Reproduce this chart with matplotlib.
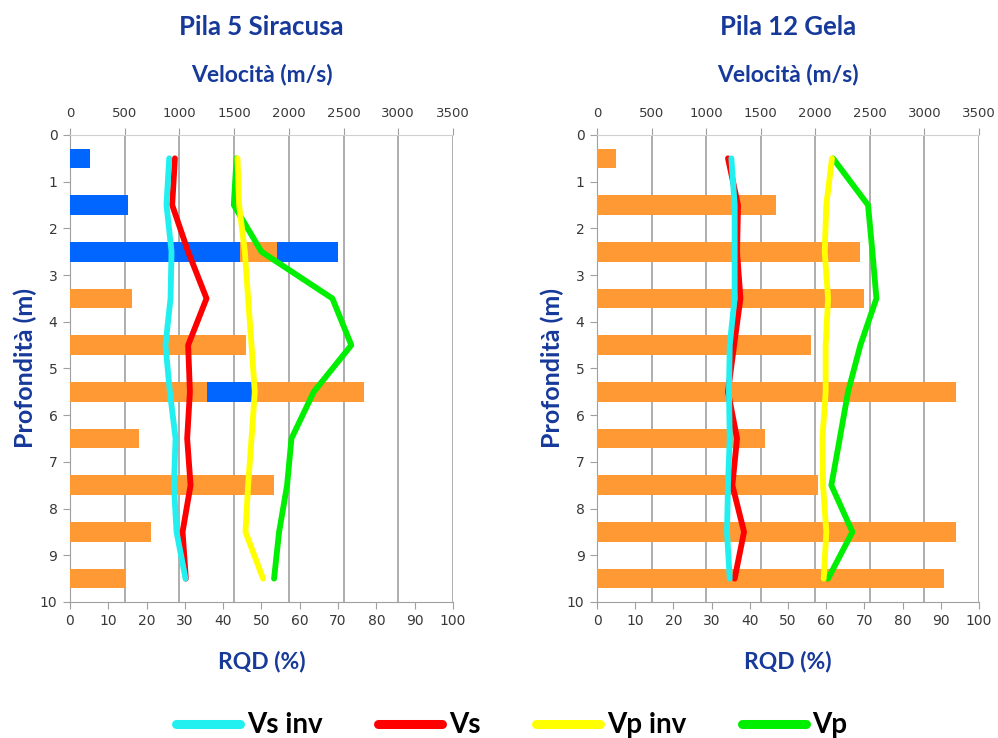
import numpy as np
import matplotlib
matplotlib.use("Agg")
import matplotlib.pyplot as plt

# depth of each measurement (m)
depth = [0.5, 1.5, 2.5, 3.5, 4.5, 5.5, 6.5, 7.5, 8.5, 9.5]

# Pila 5 Siracusa - velocities (m/s)
sir_vs_inv = [907, 882, 928, 919, 873, 913, 965, 950, 974, 1056]
sir_vs = [959, 934, 1080, 1248, 1080, 1096, 1071, 1102, 1029, 1059]
sir_vp_inv = [1531, 1546, 1598, 1628, 1659, 1689, 1659, 1628, 1604, 1765]
sir_vp = [1522, 1497, 1750, 2398, 2571, 2228, 2024, 1984, 1911, 1865]

# Pila 5 Siracusa - RQD bar segments (%), blue and orange pieces
sir_blue_depth = [0.5, 1.5, 2.5, 2.5, 5.5]
sir_blue_from = [0, 0, 0, 54.1, 35.8]
sir_blue_to = [5.2, 15.2, 44.3, 70.0, 47.6]
sir_orange_depth = [2.5, 3.5, 4.5, 5.5, 5.5, 6.5, 7.5, 8.5, 9.5]
sir_orange_from = [44.3, 0, 0, 0, 47.6, 0, 0, 0, 0]
sir_orange_to = [54.1, 16.1, 45.9, 35.8, 76.8, 17.9, 53.2, 21.1, 14.3]

# Pila 12 Gela - velocities (m/s)
gela_vs_inv = [1231, 1261, 1261, 1261, 1216, 1209, 1216, 1200, 1191, 1216]
gela_vs = [1200, 1292, 1283, 1314, 1256, 1200, 1283, 1240, 1347, 1261]
gela_vp_inv = [2153, 2101, 2086, 2117, 2095, 2095, 2065, 2071, 2101, 2077]
gela_vp = [2162, 2483, 2523, 2560, 2413, 2300, 2224, 2147, 2340, 2117]

# Pila 12 Gela - RQD (%)
gela_rqd = [4.9, 46.9, 68.9, 69.9, 55.9, 94.1, 44.1, 57.9, 94.1, 90.8]

C_CYAN = '#22f0f0'
C_RED = '#ff0000'
C_YEL = '#ffff00'
C_GREEN = '#00ee00'
C_ORANGE = '#ff9933'
C_BLUE = '#0066ff'
C_TITLE = '#16399a'
C_TICK = '#383838'
C_GRID = '#a0a0a0'

TITLE_FONT = ['Lato', 'DejaVu Sans']


def draw_panel(fig, rect, title, vs_inv, vs, vp_inv, vp, bars):
    # ax_v: velocity axis (top ticks + grid), drawn underneath
    ax_v = fig.add_axes(rect)
    ax = ax_v.twiny()
    # bars/lines axis on top of the grid axis
    ax_v.set_zorder(0)
    ax.set_zorder(1)
    ax.patch.set_visible(False)

    ax.xaxis.set_ticks_position('bottom')
    ax.xaxis.set_label_position('bottom')
    ax_v.xaxis.set_ticks_position('top')
    ax_v.xaxis.set_label_position('top')

    for d, x0, x1, col in bars:
        ax.barh(d, x1 - x0, left=x0, height=0.42, color=col, zorder=2)

    lw = 4.2
    kw = dict(solid_capstyle='round', solid_joinstyle='round', zorder=3,
              transform=ax_v.transData)
    ax.plot(vp, depth, color=C_GREEN, lw=lw, **kw)
    ax.plot(vp_inv, depth, color=C_YEL, lw=lw, **kw)
    ax.plot(vs, depth, color=C_RED, lw=lw, **kw)
    ax.plot(vs_inv, depth, color=C_CYAN, lw=lw, **kw)

    ax.set_xlim(0, 100)
    ax.set_xticks(np.arange(0, 101, 10))
    ax_v.set_xlim(0, 3500)
    ax_v.set_xticks(np.arange(0, 3501, 500))
    ax_v.set_ylim(10, 0)
    ax.set_ylim(10, 0)
    ax_v.set_yticks(np.arange(0, 11, 1))

    ax_v.grid(axis='x', color=C_GRID, lw=1.2)
    for a in (ax, ax_v):
        for s in a.spines.values():
            s.set_visible(False)
    ax_v.spines['left'].set_visible(True)
    ax_v.spines['left'].set_color(C_GRID)
    ax_v.spines['top'].set_visible(True)
    ax_v.spines['top'].set_color('#d0d0d0')
    ax.spines['bottom'].set_visible(True)
    ax.spines['bottom'].set_color(C_GRID)

    ax_v.tick_params(axis='x', colors=C_GRID, labelcolor=C_TICK, labelsize=9.5,
                     length=5, pad=6)
    ax_v.tick_params(axis='y', colors=C_GRID, labelcolor=C_TICK, labelsize=10,
                     length=5, pad=4)
    ax.tick_params(axis='x', colors=C_GRID, labelcolor=C_TICK, labelsize=10,
                   length=5, pad=4)

    ax_v.set_ylabel('Profondità (m)', fontsize=18, fontweight='bold',
                    color=C_TITLE, family=TITLE_FONT, labelpad=2)
    ax_v.set_xlabel('Velocità (m/s)', fontsize=16.5, fontweight='bold',
                    color=C_TITLE, family=TITLE_FONT, labelpad=18)
    ax.set_xlabel('RQD (%)', fontsize=16.5, fontweight='bold',
                  color=C_TITLE, family=TITLE_FONT, labelpad=16)
    ax_v.set_title(title, fontsize=18.5, fontweight='bold', color=C_TITLE,
                   family=TITLE_FONT, pad=72)
    return ax


fig = plt.figure(figsize=(9.98, 7.38), dpi=100)

sir_bars = ([(d, a, b, C_BLUE) for d, a, b in zip(sir_blue_depth, sir_blue_from, sir_blue_to)
             if not (d == 5.5)]
            + [(d, a, b, C_ORANGE) for d, a, b in zip(sir_orange_depth, sir_orange_from, sir_orange_to)]
            + [(d, a, b, C_BLUE) for d, a, b in zip(sir_blue_depth, sir_blue_from, sir_blue_to)
               if d == 5.5])
gela_bars = [(d, 0, r, C_ORANGE) for d, r in zip(depth, gela_rqd)]

draw_panel(fig, [0.0701, 0.1843, 0.3838, 0.6328], 'Pila 5 Siracusa',
           sir_vs_inv, sir_vs, sir_vp_inv, sir_vp, sir_bars)
draw_panel(fig, [0.5982, 0.1843, 0.3828, 0.6328], 'Pila 12 Gela',
           gela_vs_inv, gela_vs, gela_vp_inv, gela_vp, gela_bars)

handles = [plt.Line2D([], [], color=c, lw=6.5, solid_capstyle='round')
           for c in (C_CYAN, C_RED, C_YEL, C_GREEN)]
fig.legend(handles, ['Vs inv', 'Vs', 'Vp inv', 'Vp'], loc='center',
           bbox_to_anchor=(0.513, 0.017), ncol=4, frameon=False, handlelength=2.3,
           columnspacing=2.0, handletextpad=0.25,
           prop=dict(family=TITLE_FONT, weight='bold', size=20))

fig.savefig('out.png', dpi=100, facecolor='white')
